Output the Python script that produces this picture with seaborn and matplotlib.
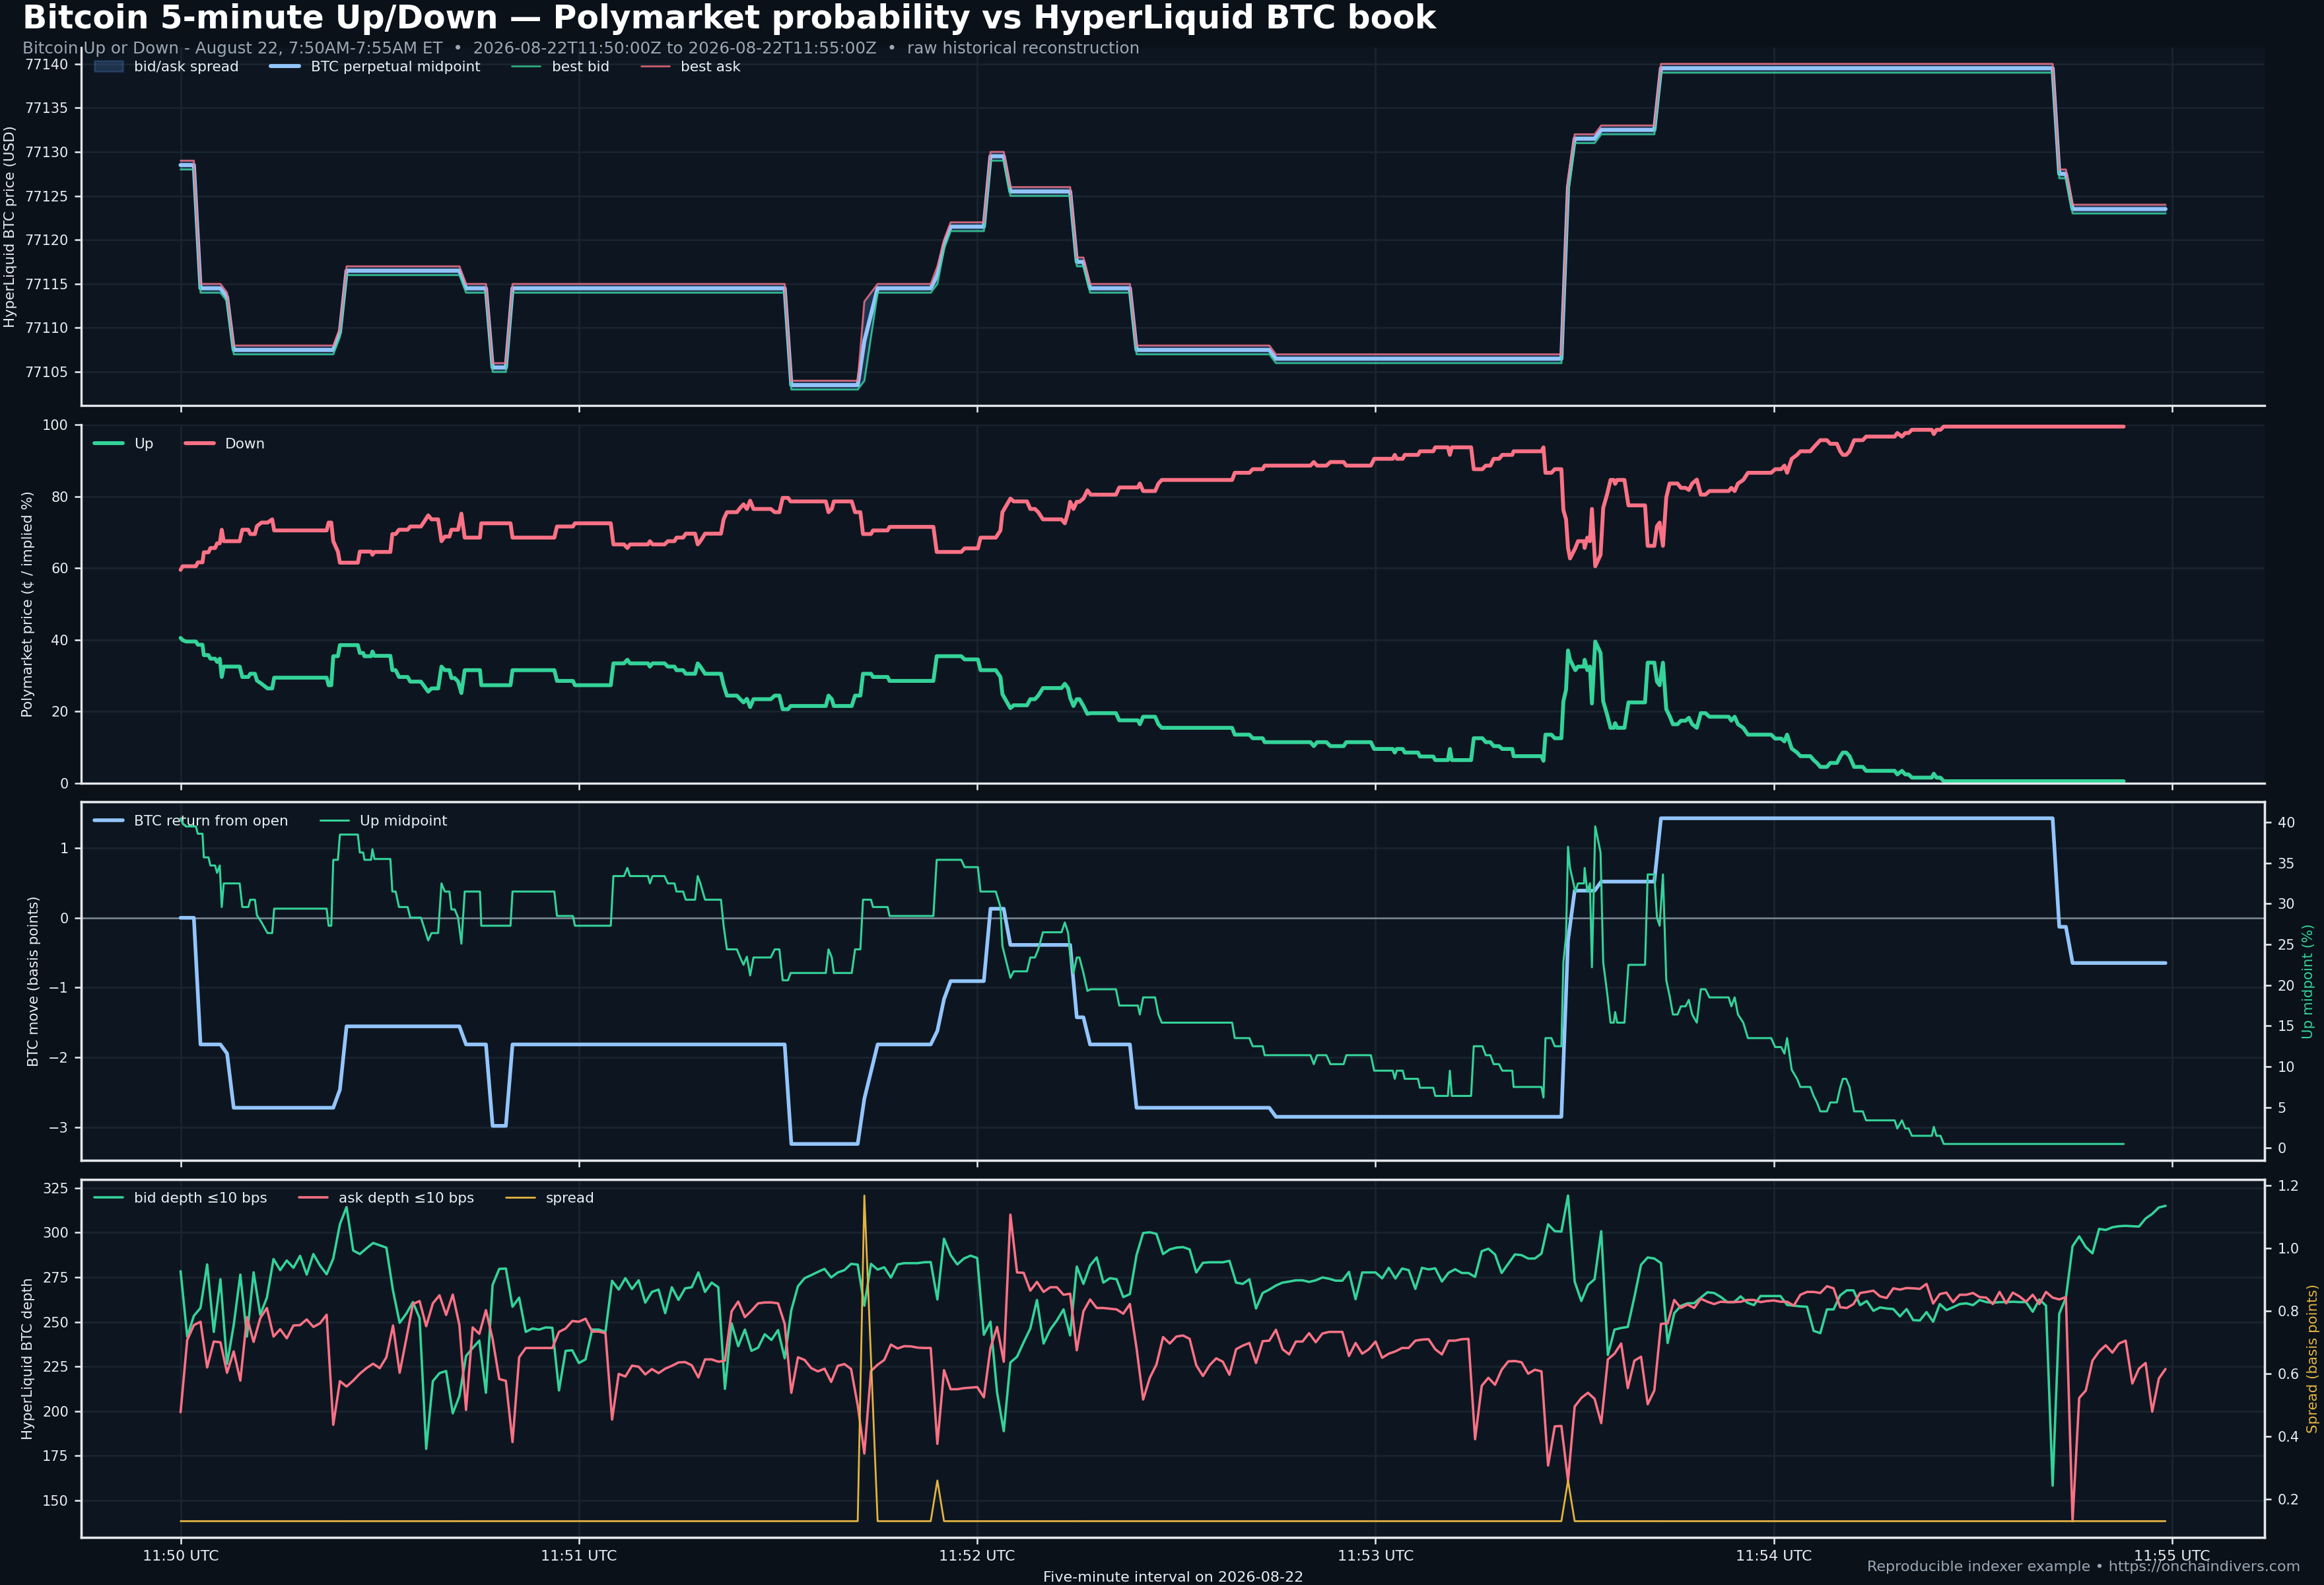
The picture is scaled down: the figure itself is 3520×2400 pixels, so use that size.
import numpy as np
import pandas as pd
import matplotlib
matplotlib.use("Agg")
import matplotlib.pyplot as plt
from matplotlib.ticker import MultipleLocator, FixedLocator, FixedFormatter
import seaborn as sns

# ---------------- text ----------------
TITLE = "Bitcoin 5-minute Up/Down \u2014 Polymarket probability vs HyperLiquid BTC book"
SUBTITLE = ("Bitcoin Up or Down - August 22, 7:50AM-7:55AM ET  \u2022  "
            "2026-08-22T11:50:00Z to 2026-08-22T11:55:00Z  \u2022  raw historical reconstruction")
FOOTER = "Reproducible indexer example \u2022 https://onchaindivers.com"
XLABEL = "Five-minute interval on 2026-08-22"
XTICK_SECONDS = [0, 60, 120, 180, 240, 300]
XTICK_LABELS = ["11:50 UTC", "11:51 UTC", "11:52 UTC", "11:53 UTC", "11:54 UTC", "11:55 UTC"]

# ---------------- HyperLiquid top of book (seconds after 11:50:00) ----------------
BOOK_T = [0, 2, 3, 6, 7, 8, 23, 24, 25, 42,
          43, 46, 47, 49, 50, 91, 92, 102, 103, 105,
          113, 114, 115, 116, 121, 122, 124, 125, 134, 135,
          136, 137, 143, 144, 164, 165, 208, 209, 210, 213,
          214, 222, 223, 282, 283, 284, 285, 299]
BOOK_BID = [77128, 77128, 77114, 77114, 77113, 77107, 77107, 77109, 77116, 77116,
            77114, 77114, 77105, 77105, 77114, 77114, 77103, 77103, 77104, 77114,
            77114, 77115, 77119, 77121, 77121, 77129, 77129, 77125, 77125, 77117,
            77117, 77114, 77114, 77107, 77107, 77106, 77106, 77125, 77131, 77131,
            77132, 77132, 77139, 77139, 77127, 77127, 77123, 77123]
BOOK_ASK = [77129, 77129, 77115, 77115, 77114, 77108, 77108, 77110, 77117, 77117,
            77115, 77115, 77106, 77106, 77115, 77115, 77104, 77104, 77113, 77115,
            77115, 77117, 77120, 77122, 77122, 77130, 77130, 77126, 77126, 77118,
            77118, 77115, 77115, 77108, 77108, 77107, 77107, 77127, 77132, 77132,
            77133, 77133, 77140, 77140, 77128, 77128, 77124, 77124]

# ---------------- Polymarket Up / Down prices (cents) ----------------
PM_T = [0.0, 0.3, 0.8, 2.3, 2.6, 3.3, 3.5, 4.2, 4.5, 5.2,
        5.5, 5.9, 6.2, 6.5, 8.9, 9.3, 10.2, 10.5, 11.2, 11.5,
        12.2, 13.1, 13.8, 14.1, 22.0, 22.3, 22.7, 23.0, 23.7, 24.0,
        26.7, 27.0, 27.5, 27.7, 28.7, 28.9, 29.2, 31.6, 31.9, 32.4,
        32.9, 34.2, 34.6, 36.2, 36.6, 37.3, 37.8, 38.8, 39.3, 39.8,
        40.5, 40.8, 41.3, 41.8, 42.3, 42.8, 45.1, 45.3, 49.7, 50.0,
        56.3, 56.7, 59.1, 59.4, 64.8, 65.2, 66.8, 67.3, 67.7, 70.4,
        70.7, 71.1, 72.9, 73.4, 74.4, 74.7, 75.7, 76.1, 77.5, 77.9,
        78.3, 79.0, 81.4, 81.8, 82.3, 83.8, 84.3, 84.8, 85.3, 85.8,
        86.3, 88.9, 89.5, 90.2, 90.7, 91.5, 91.9, 97.2, 97.6, 98.1,
        98.4, 101.1, 101.6, 102.4, 102.8, 104.0, 104.3, 106.5, 106.8, 113.4,
        113.9, 117.6, 118.1, 120.1, 120.5, 122.8, 123.5, 123.8, 124.5, 125.0,
        125.5, 127.5, 128.0, 128.7, 129.2, 129.9, 132.7, 133.2, 133.7, 134.0,
        134.5, 135.0, 135.4, 136.0, 136.6, 137.1, 140.9, 141.4, 144.2, 144.5,
        145.0, 146.8, 147.3, 147.8, 158.4, 158.8, 161.0, 161.5, 163.0, 163.3,
        170.2, 170.7, 171.2, 172.6, 173.2, 175.2, 175.6, 179.3, 179.8, 182.6,
        182.9, 183.2, 184.1, 184.4, 186.4, 186.7, 188.7, 189.0, 190.9, 191.2,
        191.5, 194.4, 194.8, 196.1, 196.6, 197.3, 197.8, 198.6, 199.1, 200.6,
        200.8, 205.0, 205.3, 205.6, 206.5, 207.0, 208.0, 208.3, 208.7, 209.0,
        209.3, 210.1, 210.5, 211.4, 211.5, 211.9, 212.3, 212.6, 213.1, 213.5,
        213.9, 214.3, 214.9, 215.4, 215.9, 216.1, 216.4, 217.5, 218.1, 220.6,
        221.0, 222.0, 222.4, 222.8, 223.3, 223.8, 224.3, 224.8, 225.5, 226.0,
        226.7, 227.2, 227.7, 228.4, 229.0, 229.7, 230.3, 233.2, 233.6, 234.1,
        234.6, 235.4, 236.1, 239.6, 240.2, 241.1, 241.6, 242.0, 242.7, 243.5,
        244.0, 245.5, 246.0, 246.5, 247.0, 248.0, 248.5, 249.5, 250.0, 250.4,
        250.9, 251.4, 252.1, 253.4, 253.9, 258.2, 258.6, 259.3, 259.8, 260.3,
        260.8, 263.8, 264.1, 264.5, 265.1, 265.6, 292.7]
PM_UP = [40.5, 39.9, 39.5, 39.5, 38.6, 38.6, 35.7, 35.7, 34.7, 34.7,
         33.8, 34.7, 29.6, 32.5, 32.5, 29.6, 29.6, 30.5, 30.5, 28.6,
         27.7, 26.4, 26.4, 29.4, 29.4, 27.3, 27.3, 35.4, 35.4, 38.5,
         38.5, 36.3, 36.3, 35.4, 35.4, 36.7, 35.5, 35.5, 31.5, 31.5,
         29.6, 29.6, 28.3, 28.3, 27.3, 25.5, 26.4, 26.4, 32.5, 31.5,
         31.5, 29.3, 29.3, 28.3, 25.1, 31.5, 31.5, 27.3, 27.3, 31.5,
         31.5, 28.5, 28.5, 27.3, 27.3, 33.4, 33.4, 34.4, 33.4, 33.4,
         32.5, 33.4, 33.4, 32.5, 32.5, 31.5, 31.5, 30.5, 30.5, 33.4,
         32.5, 30.5, 30.5, 27.3, 24.4, 24.4, 23.4, 22.5, 23.5, 21.2,
         23.4, 23.4, 24.4, 24.4, 20.6, 20.6, 21.5, 21.5, 24.4, 23.4,
         21.5, 21.5, 24.4, 24.4, 30.5, 30.5, 29.6, 29.6, 28.5, 28.5,
         35.4, 35.4, 34.5, 34.5, 31.5, 31.5, 29.6, 24.8, 22.5, 20.9,
         21.7, 21.7, 23.4, 23.4, 24.4, 26.5, 26.5, 27.7, 26.4, 23.8,
         21.5, 23.4, 23.4, 21.5, 19.3, 19.5, 19.5, 17.5, 17.5, 16.4,
         18.5, 18.5, 16.4, 15.4, 15.4, 13.5, 13.5, 12.5, 12.5, 11.4,
         11.4, 10.3, 11.4, 11.4, 10.3, 10.3, 11.4, 11.4, 9.5, 9.5,
         8.5, 9.5, 9.5, 8.5, 8.5, 7.4, 7.4, 6.4, 6.4, 9.5,
         6.4, 6.4, 12.5, 12.5, 11.4, 11.4, 10.3, 10.3, 9.5, 9.5,
         7.5, 7.5, 6.2, 13.5, 13.5, 12.5, 12.5, 22.8, 26.0, 37.0,
         34.4, 31.5, 32.5, 32.5, 34.4, 31.5, 32.5, 22.2, 39.5, 37.9,
         36.3, 22.8, 19.0, 15.4, 15.4, 16.7, 15.4, 15.4, 22.5, 22.5,
         33.6, 33.6, 28.3, 27.3, 33.6, 20.6, 18.7, 16.4, 16.4, 17.4,
         17.4, 18.2, 16.4, 15.4, 19.5, 19.5, 18.5, 18.5, 17.4, 18.5,
         16.4, 15.4, 13.5, 13.5, 12.4, 12.4, 11.6, 13.5, 9.6, 8.5,
         7.5, 7.5, 6.4, 5.6, 4.5, 4.5, 5.6, 5.6, 7.4, 8.5,
         8.5, 7.5, 4.5, 4.5, 3.4, 3.4, 2.4, 3.4, 2.4, 2.4,
         1.5, 1.5, 2.6, 1.5, 1.5, 0.5, 0.5]
PM_DOWN = [59.5, 60.5, 60.5, 60.5, 61.6, 61.6, 64.4, 64.4, 65.6, 65.6,
           66.9, 66.9, 70.7, 67.5, 67.5, 70.7, 70.7, 69.5, 69.5, 71.7,
           72.7, 72.7, 73.6, 70.5, 70.5, 72.7, 72.7, 67.5, 64.6, 61.5,
           61.5, 64.6, 64.6, 64.6, 64.6, 63.7, 64.5, 64.5, 69.5, 69.5,
           70.7, 70.7, 71.6, 71.6, 72.7, 74.7, 73.6, 73.6, 67.5, 68.8,
           68.8, 70.7, 70.7, 70.7, 75.2, 68.5, 68.5, 72.5, 72.5, 68.5,
           68.5, 71.6, 71.6, 72.5, 72.5, 66.6, 66.6, 65.6, 66.6, 66.6,
           67.5, 66.6, 66.6, 67.5, 67.5, 68.5, 68.5, 69.6, 69.6, 66.6,
           67.5, 69.6, 69.6, 73.6, 75.6, 75.6, 76.8, 77.8, 76.5, 78.8,
           76.5, 76.5, 75.6, 75.6, 79.6, 79.6, 78.6, 78.6, 75.6, 76.5,
           78.6, 78.6, 75.6, 75.6, 69.5, 69.5, 70.5, 70.5, 71.5, 71.5,
           64.5, 64.5, 65.5, 65.5, 68.5, 68.5, 70.5, 75.6, 77.8, 79.4,
           78.6, 78.6, 76.5, 76.5, 75.6, 73.6, 73.6, 72.5, 75.6, 78.5,
           76.5, 78.5, 78.5, 79.4, 81.7, 80.5, 80.5, 82.5, 82.5, 83.6,
           81.5, 81.5, 83.6, 84.6, 84.6, 86.6, 86.6, 87.6, 87.6, 88.6,
           88.6, 89.6, 88.6, 88.6, 89.6, 89.6, 88.6, 88.6, 90.5, 90.5,
           91.6, 90.5, 90.5, 91.6, 91.6, 92.6, 92.6, 93.7, 93.7, 91.6,
           93.7, 93.7, 87.6, 87.6, 88.6, 88.6, 90.5, 90.5, 91.6, 91.6,
           92.6, 92.6, 93.7, 86.6, 86.6, 87.6, 87.6, 76.2, 73.6, 65.6,
           62.7, 65.6, 67.5, 67.5, 65.6, 68.5, 67.5, 76.5, 60.5, 62.1,
           63.7, 76.8, 80.7, 84.6, 84.6, 83.5, 84.6, 84.6, 77.5, 77.5,
           66.2, 66.2, 71.7, 72.7, 66.2, 79.7, 83.6, 83.6, 83.6, 82.4,
           82.4, 81.8, 83.6, 84.7, 80.5, 80.5, 81.5, 81.5, 82.4, 81.5,
           83.6, 84.6, 86.6, 86.6, 87.6, 87.6, 88.6, 86.6, 90.5, 91.6,
           92.6, 92.6, 93.7, 94.7, 95.7, 95.7, 94.7, 94.7, 92.6, 91.6,
           91.6, 92.6, 95.7, 95.7, 96.7, 96.7, 97.7, 96.7, 97.7, 97.7,
           98.6, 98.6, 97.4, 98.6, 98.6, 99.5, 99.5]

# ---------------- HyperLiquid depth within 10 bps (BTC), one snapshot per second ----------------
DEPTH_T = list(range(300))
BID_DEPTH = [
    278.4, 241.8, 253.4, 257.8, 282.2, 244.4, 273.9, 226.4, 248.2, 276.5,
    241.8, 277.8, 254.0, 263.6, 285.2, 279.0, 284.4, 280.3, 287.0, 276.5,
    288.0, 281.6, 276.7, 285.5, 304.7, 314.3, 290.0, 288.0, 291.2, 294.2,
    292.9, 291.6, 267.5, 249.5, 254.6, 261.1, 252.1, 178.9, 216.8, 221.3,
    222.5, 198.8, 208.4, 230.9, 235.4, 239.5, 210.3, 270.7, 279.7, 279.9,
    258.5, 263.6, 244.4, 246.3, 245.7, 246.9, 246.7, 211.6, 233.8, 234.1,
    227.0, 229.0, 245.7, 245.7, 244.4, 273.0, 268.1, 274.5, 268.4, 273.3,
    260.8, 266.8, 268.1, 254.9, 269.4, 262.3, 268.8, 269.4, 277.7, 266.8,
    272.0, 269.4, 212.5, 249.2, 236.4, 245.7, 233.8, 235.6, 243.1, 239.9,
    245.4, 229.6, 256.6, 270.0, 274.5, 276.2, 278.0, 279.7, 274.9, 277.7,
    279.0, 282.5, 282.1, 259.1, 282.5, 279.3, 280.6, 274.8, 282.2, 282.9,
    282.9, 282.9, 283.4, 283.5, 262.6, 296.6, 287.4, 282.2, 285.5, 287.1,
    285.8, 242.8, 250.1, 210.3, 188.8, 227.3, 230.5, 238.6, 246.3, 262.3,
    237.9, 245.7, 250.8, 257.0, 242.4, 281.0, 271.3, 281.6, 286.1, 272.0,
    274.5, 273.9, 263.9, 265.6, 287.4, 299.8, 300.2, 299.3, 288.0, 290.6,
    291.6, 291.9, 290.6, 277.7, 283.1, 283.4, 283.4, 283.4, 284.2, 272.0,
    271.3, 273.9, 257.5, 266.2, 268.1, 270.4, 272.0, 272.6, 273.3, 273.3,
    272.4, 273.3, 274.9, 274.2, 273.1, 273.1, 278.0, 262.7, 277.7, 277.7,
    277.7, 274.4, 280.3, 274.3, 279.9, 279.0, 268.5, 280.3, 279.4, 280.0,
    272.6, 277.5, 279.5, 277.4, 277.4, 275.2, 289.6, 291.0, 287.8, 277.4,
    282.6, 287.8, 287.4, 285.5, 285.5, 288.3, 304.7, 300.8, 300.6, 320.8,
    272.6, 261.7, 270.7, 273.9, 300.8, 231.5, 245.7, 246.6, 247.2, 264.0,
    282.0, 286.1, 285.5, 282.9, 238.2, 254.9, 259.0, 260.4, 260.5, 263.6,
    266.6, 266.2, 264.0, 261.1, 261.1, 264.3, 260.8, 259.4, 264.5, 264.5,
    264.5, 264.5, 259.5, 259.1, 258.7, 258.5, 245.0, 243.7, 257.0, 257.0,
    264.9, 267.7, 267.7, 259.4, 261.7, 256.2, 258.1, 257.5, 257.2, 253.1,
    257.2, 251.0, 250.8, 255.5, 250.1, 260.0, 256.6, 258.2, 260.0, 260.4,
    259.4, 262.3, 261.1, 260.7, 261.1, 261.1, 261.3, 261.1, 261.1, 255.7,
    262.6, 259.1, 158.3, 254.6, 263.6, 292.4, 297.9, 291.9, 288.4, 302.1,
    301.5, 303.0, 303.6, 303.8, 303.6, 303.4, 307.9, 310.5, 314.1, 315.0]
ASK_DEPTH = [
    199.4, 239.9, 248.2, 250.1, 224.5, 239.0, 238.6, 221.5, 233.5, 217.1,
    252.7, 238.8, 252.1, 257.8, 241.8, 245.9, 240.8, 248.0, 248.2, 251.4,
    247.2, 249.2, 254.0, 192.4, 216.8, 213.8, 217.1, 221.0, 224.1, 226.6,
    224.1, 230.2, 248.0, 221.5, 240.5, 260.0, 261.7, 247.6, 260.4, 264.9,
    253.9, 265.3, 248.2, 200.7, 246.9, 243.3, 256.6, 240.5, 218.0, 217.0,
    182.7, 230.2, 235.4, 235.4, 235.4, 235.4, 235.4, 244.4, 246.3, 250.5,
    250.1, 251.8, 244.6, 244.6, 243.7, 195.3, 220.9, 219.4, 225.5, 224.9,
    220.6, 223.6, 221.3, 223.8, 225.4, 227.3, 227.5, 225.7, 218.9, 229.0,
    229.0, 227.7, 228.3, 255.9, 261.4, 252.7, 256.3, 260.4, 260.9, 260.9,
    260.4, 248.9, 210.3, 230.2, 228.7, 224.1, 222.3, 223.8, 216.4, 225.4,
    226.4, 223.6, 203.3, 176.3, 222.5, 226.0, 228.7, 237.3, 235.1, 236.4,
    236.3, 235.6, 235.4, 235.4, 181.7, 223.0, 212.3, 212.3, 212.9, 213.2,
    213.5, 207.8, 235.4, 247.2, 227.7, 310.1, 277.7, 277.5, 267.5, 272.4,
    266.8, 269.4, 269.4, 265.2, 265.8, 234.1, 255.9, 262.6, 257.8, 257.8,
    257.4, 257.0, 254.6, 260.0, 235.4, 206.5, 218.7, 226.1, 241.5, 237.9,
    241.8, 242.4, 240.5, 225.7, 219.7, 225.7, 229.6, 227.7, 220.4, 234.7,
    236.7, 238.2, 227.0, 239.2, 239.5, 245.6, 234.7, 231.8, 239.0, 239.0,
    243.7, 238.6, 243.5, 244.4, 244.4, 244.4, 230.9, 238.2, 232.2, 234.7,
    239.0, 229.9, 232.2, 233.5, 235.4, 235.4, 239.5, 240.1, 240.3, 234.7,
    231.8, 239.5, 239.5, 240.3, 240.5, 184.3, 214.2, 218.7, 214.8, 223.2,
    227.9, 228.1, 227.4, 221.0, 223.2, 222.3, 169.6, 191.5, 191.7, 160.9,
    202.6, 207.4, 210.3, 206.9, 193.3, 229.0, 232.2, 237.9, 212.9, 228.3,
    230.5, 203.9, 211.6, 248.9, 249.2, 262.3, 257.8, 259.8, 257.8, 263.0,
    261.3, 260.0, 261.3, 261.1, 261.1, 261.3, 262.3, 262.3, 261.1, 261.7,
    262.0, 261.3, 261.3, 259.1, 265.2, 266.8, 266.8, 266.2, 270.0, 268.8,
    258.2, 257.8, 260.0, 266.2, 266.8, 267.5, 264.3, 263.4, 268.8, 268.1,
    269.0, 268.8, 268.5, 271.3, 260.3, 265.6, 266.4, 261.1, 265.2, 265.2,
    266.2, 263.9, 263.6, 260.0, 266.8, 260.4, 266.4, 264.3, 261.3, 265.2,
    260.0, 266.8, 263.6, 262.6, 263.9, 138.4, 207.4, 211.6, 228.3, 233.5,
    236.9, 232.8, 237.9, 239.5, 215.5, 223.8, 227.0, 199.7, 218.3, 223.6]

# ---------------- style ----------------
FIG_BG = "#0a1119"
AX_BG = "#0d1620"
GRID_C = "#1b2531"
TEXT_C = "#e6edf3"
MUTED_C = "#9ba7b4"
SPINE_C = "#e5e7eb"
MID_C = "#93c5fd"
FILL_C = "#60a5fa"
BID_C = "#34d399"
ASK_C = "#fb7185"
UP_C = "#34d399"
DOWN_C = "#fb7185"
SPREAD_C = "#e3b341"
ZERO_C = "#8b96a3"

sns.set_theme(style="dark", rc={
    "figure.facecolor": FIG_BG,
    "axes.facecolor": AX_BG,
    "axes.edgecolor": SPINE_C,
    "axes.linewidth": 1.2,
    "axes.labelcolor": TEXT_C,
    "axes.grid": True,
    "grid.color": GRID_C,
    "grid.linewidth": 0.9,
    "text.color": TEXT_C,
    "xtick.color": TEXT_C,
    "ytick.color": TEXT_C,
    "xtick.bottom": True,
    "ytick.left": True,
    "xtick.major.size": 3.5,
    "ytick.major.size": 3.5,
    "xtick.major.width": 0.9,
    "ytick.major.width": 0.9,
    "xtick.labelsize": 8,
    "ytick.labelsize": 7.5,
    "axes.labelsize": 7.7,
    "legend.fontsize": 7.8,
})
plt.rcParams["font.family"] = ["DejaVu Sans"]

book = pd.DataFrame({"t": BOOK_T, "bid": BOOK_BID, "ask": BOOK_ASK})
book["mid"] = (book["bid"] + book["ask"]) / 2.0
book["spread_bps"] = (book["ask"] - book["bid"]) / book["mid"] * 1e4
book["ret_bps"] = (book["mid"] / book["mid"].iloc[0] - 1.0) * 1e4

pm = pd.DataFrame({"t": PM_T, "up": PM_UP, "down": PM_DOWN})
depth = pd.DataFrame({"t": DEPTH_T, "bid": BID_DEPTH, "ask": ASK_DEPTH})

fig, axes = plt.subplots(4, 1, figsize=(17.6, 12), dpi=200, sharex=True)
fig.patch.set_facecolor(FIG_BG)
fig.subplots_adjust(left=0.035, right=0.9745, top=0.970, bottom=0.030, hspace=0.053)
ax1, ax2, ax3, ax4 = axes

LP = dict(sort=False, estimator=None, errorbar=None)

# ---- panel 1: book ----
ax1.fill_between(book["t"], book["bid"], book["ask"], color=FILL_C, alpha=0.2,
                 label="bid/ask spread")
sns.lineplot(x=book["t"], y=book["mid"], ax=ax1, color=MID_C, linewidth=2.2,
             label="BTC perpetual midpoint", **LP)
sns.lineplot(x=book["t"], y=book["bid"], ax=ax1, color=BID_C, linewidth=1.0, alpha=0.8,
             label="best bid", **LP)
sns.lineplot(x=book["t"], y=book["ask"], ax=ax1, color=ASK_C, linewidth=1.0, alpha=0.8,
             label="best ask", **LP)
ax1.set_ylabel("HyperLiquid BTC price (USD)")
ax1.yaxis.set_major_locator(MultipleLocator(5))
ax1.ticklabel_format(axis="y", useOffset=False, style="plain")

# ---- panel 2: Polymarket ----
sns.lineplot(x=pm["t"], y=pm["up"], ax=ax2, color=UP_C, linewidth=2.1, label="Up", **LP)
sns.lineplot(x=pm["t"], y=pm["down"], ax=ax2, color=DOWN_C, linewidth=2.1, label="Down", **LP)
ax2.set_ylim(0, 100)
ax2.yaxis.set_major_locator(MultipleLocator(20))
ax2.set_ylabel("Polymarket price (\u00a2 / implied %)")

# ---- panel 3: BTC move vs Up midpoint ----
ax3.axhline(0, color=ZERO_C, linewidth=0.9, alpha=0.9, zorder=1)
sns.lineplot(x=book["t"], y=book["ret_bps"], ax=ax3, color=MID_C, linewidth=2.0,
             label="BTC return from open", **LP)
ax3.yaxis.set_major_locator(MultipleLocator(1))
ax3.set_ylabel("BTC move (basis points)")
ax3r = ax3.twinx()
sns.lineplot(x=pm["t"], y=pm["up"], ax=ax3r, color=UP_C, linewidth=1.1,
             label="Up midpoint", **LP)
ax3r.grid(False)
ax3r.yaxis.set_major_locator(MultipleLocator(5))
ax3r.set_ylabel("Up midpoint (%)", color=UP_C)

# ---- panel 4: depth & spread ----
sns.lineplot(x=depth["t"], y=depth["bid"], ax=ax4, color=BID_C, linewidth=1.3,
             label="bid depth \u226410 bps", **LP)
sns.lineplot(x=depth["t"], y=depth["ask"], ax=ax4, color=ASK_C, linewidth=1.3,
             label="ask depth \u226410 bps", **LP)
ax4.yaxis.set_major_locator(MultipleLocator(25))
ax4.set_ylabel("HyperLiquid BTC depth")
ax4r = ax4.twinx()
sns.lineplot(x=book["t"], y=book["spread_bps"], ax=ax4r, color=SPREAD_C, linewidth=1.0,
             label="spread", **LP)
ax4r.grid(False)
ax4r.yaxis.set_major_locator(MultipleLocator(0.2))
ax4r.set_ylabel("Spread (basis points)", color=SPREAD_C)

# ---- shared axis formatting ----
for ax in (ax1, ax2, ax3, ax4, ax3r, ax4r):
    ax.set_xlabel("")
    ax.tick_params(colors=TEXT_C, labelcolor=TEXT_C)
    for s in ax.spines.values():
        s.set_color(SPINE_C)
for ax in (ax1, ax2):
    ax.spines["top"].set_visible(False)
    ax.spines["right"].set_visible(False)
for ax in (ax3r, ax4r):
    ax.tick_params(axis="y", right=True, labelright=True)
    leg = ax.get_legend()
    if leg is not None:
        leg.remove()

ax4.xaxis.set_major_locator(FixedLocator(XTICK_SECONDS))
ax4.xaxis.set_major_formatter(FixedFormatter(XTICK_LABELS))
ax4.set_xlabel(XLABEL, fontsize=8, color=TEXT_C)
for ax in (ax1, ax2, ax3):
    ax.tick_params(axis="x", labelbottom=False)
for ax in (ax1, ax2, ax3, ax4):
    ax.grid(True, color=GRID_C, linewidth=0.9)
    ax.set_axisbelow(True)

leg_kw = dict(loc="upper left", frameon=False, labelcolor=TEXT_C, fontsize=7.8,
              handlelength=2.0, columnspacing=2.2)
h1, l1 = ax1.get_legend_handles_labels()
ax1.legend(h1, l1, ncol=4, **leg_kw)
h2, l2 = ax2.get_legend_handles_labels()
ax2.legend(h2, l2, ncol=2, **leg_kw)
h3, l3 = ax3.get_legend_handles_labels()
h3r, l3r = ax3r.get_legend_handles_labels()
ax3.legend(h3 + h3r, l3 + l3r, ncol=2, **leg_kw)
h4, l4 = ax4.get_legend_handles_labels()
h4r, l4r = ax4r.get_legend_handles_labels()
ax4.legend(h4 + h4r, l4 + l4r, ncol=3, **leg_kw)

# ---- titles ----
fig.text(0.0096, 0.9878, TITLE, fontsize=17.6, fontweight="bold", color="#ffffff",
         ha="left", va="center", zorder=10)
fig.text(0.0096, 0.9690, SUBTITLE, fontsize=8.85, color=MUTED_C,
         ha="left", va="center", zorder=10)
fig.text(0.9898, 0.0112, FOOTER, fontsize=8, color=MUTED_C,
         ha="right", va="center", zorder=10)

fig.savefig("out.png", dpi=200, facecolor=FIG_BG)
